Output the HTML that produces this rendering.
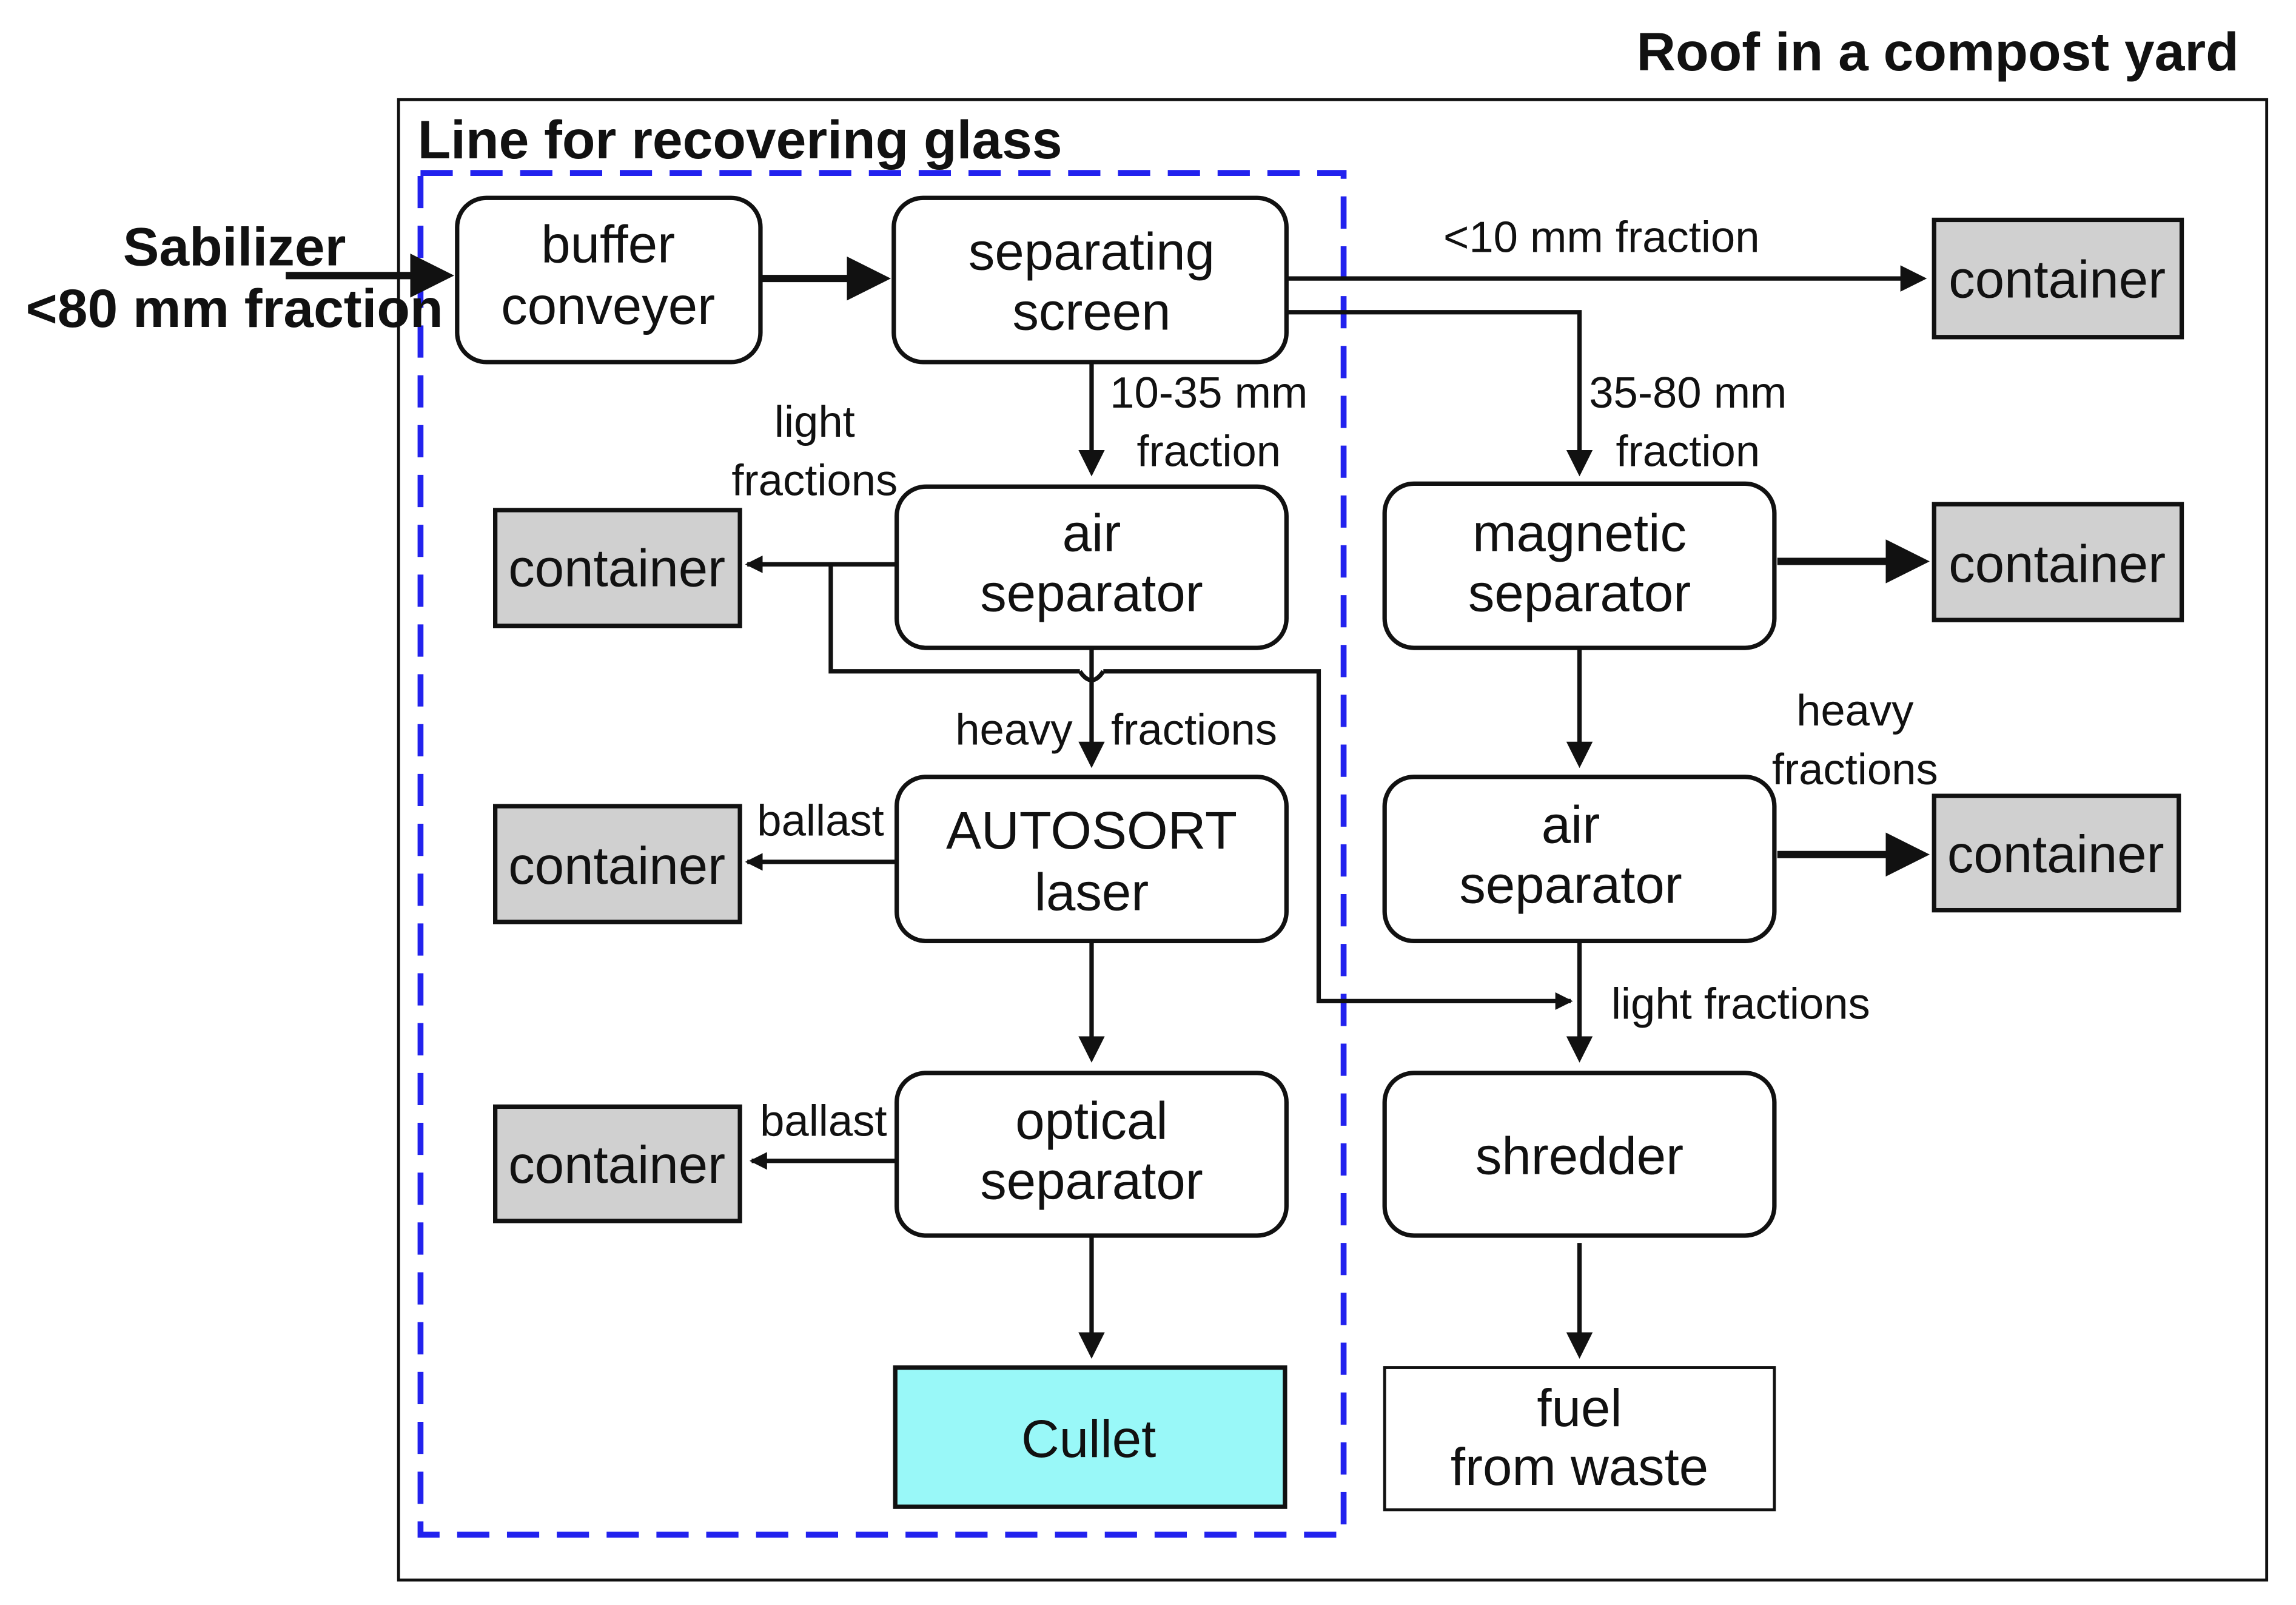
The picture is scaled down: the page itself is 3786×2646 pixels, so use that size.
<!DOCTYPE html>
<html><head><meta charset="utf-8"><style>
html,body{margin:0;padding:0;background:#fff}
svg{display:block}
text{font-family:"Liberation Sans",sans-serif;fill:#111}
.b{font-weight:bold;font-size:37px}
.n{font-size:36px;text-anchor:middle}
.s{font-size:30px;text-anchor:middle}
.box{fill:#fff;stroke:#111;stroke-width:3}
.ct{fill:#d0d0d0;stroke:#111;stroke-width:3}
.l{stroke:#111;stroke-width:3;fill:none}
.t{stroke:#111;stroke-width:5;fill:none}
</style></head><body>
<svg width="3786" height="2646" viewBox="0 0 1567 1095" preserveAspectRatio="none" xmlns="http://www.w3.org/2000/svg">
<defs>
<marker id="a" markerWidth="6" markerHeight="6" refX="5" refY="3" orient="auto" markerUnits="strokeWidth"><path d="M0,0 L6,3 L0,6 z" fill="#111"/></marker>
<marker id="as" markerWidth="4" markerHeight="4" refX="3.5" refY="2" orient="auto" markerUnits="strokeWidth"><path d="M0,0 L4,2 L0,4 z" fill="#111"/></marker>
</defs>
<text class="b" x="1528" y="48" text-anchor="end">Roof in a compost yard</text>
<rect x="272" y="68" width="1275" height="1010" fill="none" stroke="#111" stroke-width="2"/>
<text class="b" x="285" y="108">Line for recovering glass</text>
<rect x="287" y="118" width="630" height="929" fill="none" stroke="#2222ee" stroke-width="4" stroke-dasharray="22,12"/>
<text class="b" x="160" y="181" text-anchor="middle">Sabilizer</text>
<text class="b" x="160" y="223" text-anchor="middle">&lt;80 mm fraction</text>
<line class="t" x1="195" y1="188" x2="305" y2="188" marker-end="url(#a)"/>
<rect class="box" x="312" y="135" width="207" height="112" rx="20"/>
<text class="n" x="415" y="179">buffer</text><text class="n" x="415" y="221">conveyer</text>
<line class="t" x1="519" y1="190" x2="603" y2="190" marker-end="url(#a)"/>
<rect class="box" x="610" y="135" width="268" height="112" rx="20"/>
<text class="n" x="745" y="184">separating</text><text class="n" x="745" y="225">screen</text>
<line class="l" x1="878" y1="190" x2="1312" y2="190" marker-end="url(#a)"/>
<text class="s" x="1093" y="172">&lt;10 mm fraction</text>
<rect class="ct" x="1320" y="150" width="169" height="80"/><text class="n" x="1404" y="203">container</text>
<polyline class="l" points="878,213 1078,213 1078,322" marker-end="url(#a)"/>
<text class="s" x="1152" y="278">35-80 mm</text><text class="s" x="1152" y="318">fraction</text>
<line class="l" x1="745" y1="247" x2="745" y2="322" marker-end="url(#a)"/>
<text class="s" x="825" y="278">10-35 mm</text><text class="s" x="825" y="318">fraction</text>
<rect class="box" x="612" y="332" width="266" height="110" rx="20"/>
<text class="n" x="745" y="376">air</text><text class="n" x="745" y="417">separator</text>
<text class="s" x="556" y="298">light</text><text class="s" x="556" y="338">fractions</text>
<rect class="ct" x="338" y="348" width="167" height="79"/><text class="n" x="421" y="400">container</text>
<line class="l" x1="612" y1="385" x2="510" y2="385" marker-end="url(#as)"/>
<polyline class="l" points="567,385 567,458 737,458"/>
<path class="l" d="M737,458 Q745,470 753,458"/>
<polyline class="l" points="753,458 900,458 900,683 1072,683" marker-end="url(#as)"/>
<line class="l" x1="745" y1="442" x2="745" y2="521" marker-end="url(#a)"/>
<text class="s" x="692" y="508">heavy</text><text class="s" x="815" y="508">fractions</text>
<rect class="box" x="612" y="530" width="266" height="112" rx="20"/>
<text class="n" x="745" y="579">AUTOSORT</text><text class="n" x="745" y="621">laser</text>
<rect class="ct" x="338" y="550" width="167" height="79"/><text class="n" x="421" y="603">container</text>
<line class="l" x1="612" y1="588" x2="510" y2="588" marker-end="url(#as)"/>
<text class="s" x="560" y="570">ballast</text>
<line class="l" x1="745" y1="642" x2="745" y2="722" marker-end="url(#a)"/>
<rect class="box" x="612" y="732" width="266" height="111" rx="20"/>
<text class="n" x="745" y="777">optical</text><text class="n" x="745" y="818">separator</text>
<rect class="ct" x="338" y="755" width="167" height="78"/><text class="n" x="421" y="807">container</text>
<line class="l" x1="612" y1="792" x2="513" y2="792" marker-end="url(#as)"/>
<text class="s" x="562" y="775">ballast</text>
<line class="l" x1="745" y1="843" x2="745" y2="924" marker-end="url(#a)"/>
<rect x="611" y="933" width="266" height="95" fill="#99f8f8" stroke="#111" stroke-width="3"/>
<text class="n" x="743" y="994">Cullet</text>
<rect class="box" x="945" y="330" width="266" height="112" rx="20"/>
<text class="n" x="1078" y="376">magnetic</text><text class="n" x="1078" y="417">separator</text>
<line class="t" x1="1213" y1="383" x2="1312" y2="383" marker-end="url(#a)"/>
<rect class="ct" x="1320" y="344" width="169" height="79"/><text class="n" x="1404" y="397">container</text>
<line class="l" x1="1078" y1="442" x2="1078" y2="521" marker-end="url(#a)"/>
<rect class="box" x="945" y="530" width="266" height="112" rx="20"/>
<text class="n" x="1072" y="575">air</text><text class="n" x="1072" y="616">separator</text>
<text class="s" x="1266" y="495">heavy</text><text class="s" x="1266" y="535">fractions</text>
<line class="t" x1="1213" y1="583" x2="1312" y2="583" marker-end="url(#a)"/>
<rect class="ct" x="1320" y="543" width="167" height="78"/><text class="n" x="1403" y="595">container</text>
<line class="l" x1="1078" y1="642" x2="1078" y2="722" marker-end="url(#a)"/>
<text class="s" x="1188" y="695">light fractions</text>
<rect class="box" x="945" y="732" width="266" height="111" rx="20"/>
<text class="n" x="1078" y="801">shredder</text>
<line class="l" x1="1078" y1="848" x2="1078" y2="924" marker-end="url(#a)"/>
<rect x="945" y="933" width="266" height="97" fill="#fff" stroke="#111" stroke-width="2"/>
<text class="n" x="1078" y="973">fuel</text><text class="n" x="1078" y="1013">from waste</text>
</svg>
</body></html>
